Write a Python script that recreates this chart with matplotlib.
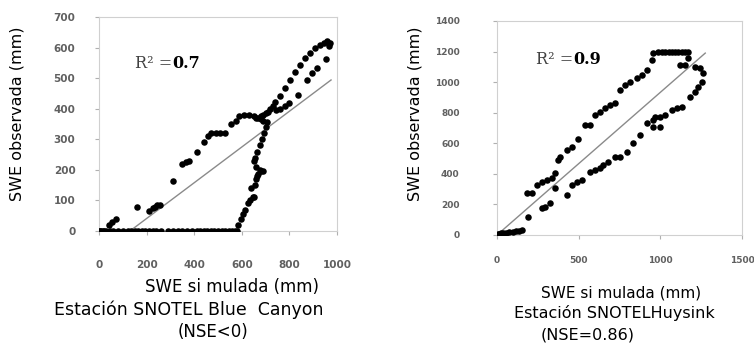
import matplotlib
matplotlib.use("Agg")
import matplotlib.pyplot as plt

# Blue Canyon: SWE simulada (x) vs observada (y), mm
bc_sim = [0, 5, 10, 15, 20, 30, 45, 60, 80, 100, 120, 135, 150, 165, 180, 195, 210, 225,
          240, 260, 290, 310, 330, 350, 370, 390, 410, 425, 440, 455, 470, 485, 500, 515,
          530, 545, 560, 570, 580,
          40, 55, 70, 160, 210, 225, 235, 245, 255, 310, 350, 365, 380, 410, 440, 460, 470,
          490, 510, 530, 555, 575, 590, 610, 630, 650, 660, 670, 680, 690, 700, 710, 720,
          730, 740, 761, 782, 803, 824, 845, 866, 887, 907, 929, 945, 960, 971,
          585, 595, 605, 615, 625, 635, 645, 650, 640, 655, 660, 665, 670, 680, 690, 675,
          660, 650, 655, 665, 675, 685, 695, 700, 705, 690, 680,
          965, 954, 914, 893, 874, 836, 800, 780, 760, 745]
bc_obs = [0, 0, 0, 0, 0, 0, 0, 0, 0, 0, 0, 0, 0, 0, 0, 0, 0, 0,
          0, 0, 0, 0, 0, 0, 0, 0, 0, 0, 0, 0, 0, 0, 0, 0,
          0, 0, 0, 0, 0,
          20, 30, 40, 80, 65, 75, 80, 85, 85, 165, 220, 225, 230, 260, 290, 310, 320,
          320, 320, 320, 350, 360, 375, 380, 380, 375, 370, 370, 375, 380, 385, 390, 400,
          410, 422, 440, 468, 494, 521, 543, 566, 581, 598, 608, 615, 620, 615,
          20, 40, 55, 70, 90, 100, 110, 110, 140, 150, 170, 180, 185, 195, 195, 200,
          210, 230, 240, 260, 280, 300, 320, 340, 355, 360, 365,
          605, 563, 532, 516, 494, 445, 420, 410, 400, 395]
bc_fit = [130, 975]
bc_fit_obs = [0, 494]

# Huysink
hy_sim = [0, 5, 10, 15, 25, 37, 55, 75, 95, 115, 135, 151,
          182, 212, 243, 274, 304, 335, 355, 375, 385, 426, 457, 498, 539, 569, 600, 631,
          661, 692, 722, 753, 784, 814, 855, 886, 917, 947, 957, 988,
          1010, 1030, 1050, 1070, 1090, 1110, 1130, 1150, 1171,
          1171, 1120, 1151, 1212, 1243, 1263, 1253, 1233, 1212, 1182, 1131, 1100, 1070,
          1029, 998, 967, 957, 998, 957,
          192, 274, 294, 324, 355, 426, 457, 487, 518, 569, 600, 631, 649, 681, 722,
          753, 794, 835, 876, 917]
hy_obs = [0, 5, 0, 8, 10, 13, 15, 18, 22, 25, 28, 33,
          272, 272, 327, 349, 360, 371, 403, 490, 512, 556, 578, 630, 719, 719, 785, 807,
          829, 850, 861, 948, 981, 1003, 1025, 1047, 1079, 1145, 1188, 1199,
          1200, 1200, 1200, 1200, 1200, 1200, 1200, 1200, 1199,
          1158, 1112, 1112, 1101, 1090, 1057, 1003, 970, 937, 905, 839, 828, 818,
          785, 774, 774, 708, 708, 752,
          120, 174, 185, 207, 305, 262, 327, 349, 360, 414, 425, 436, 458, 480, 512,
          512, 545, 600, 654, 730]
hy_fit = [0, 1275]
hy_fit_obs = [0, 1190]

W, H = 754, 345
fig = plt.figure(figsize=(W / 100, H / 100), dpi=100)
plt.rcParams['font.family'] = ['DejaVu Sans']

spine_c = '#d0d0d0'
tick_c = '#606060'


def style(ax, xpad, ypad, size):
    for s in ax.spines.values():
        s.set_color(spine_c)
        s.set_linewidth(0.8)
    ax.tick_params(axis='x', direction='out', length=3, color='#b0b0b0', pad=xpad,
                   labelsize=size, labelcolor=tick_c)
    ax.tick_params(axis='y', direction='out', length=3, color='#b0b0b0', pad=ypad,
                   labelsize=size, labelcolor=tick_c)
    for lab in ax.get_xticklabels() + ax.get_yticklabels():
        lab.set_fontweight('bold')


# panel izquierdo
ax1 = fig.add_axes([99 / W, 1 - 231 / H, 238 / W, 214 / H])
ax1.scatter(bc_sim, bc_obs, s=22, color='black', zorder=3, linewidths=0)
ax1.plot(bc_fit, bc_fit_obs, color='#8a8a8a', lw=1.0, zorder=2)
ax1.set_xlim(0, 1000)
ax1.set_ylim(0, 700)
ax1.set_xticks([0, 200, 400, 600, 800, 1000])
ax1.set_yticks(range(0, 701, 100))
style(ax1, 18, 14, 7.5)

# panel derecho
ax2 = fig.add_axes([497 / W, 1 - 235 / H, 245 / W, 214 / H])
ax2.scatter(hy_sim, hy_obs, s=22, color='black', zorder=3, linewidths=0)
ax2.plot(hy_fit, hy_fit_obs, color='#8a8a8a', lw=1.0, zorder=2)
ax2.set_xlim(0, 1500)
ax2.set_ylim(0, 1400)
ax2.set_xticks([0, 500, 1000, 1500])
ax2.set_yticks(range(0, 1401, 200))
style(ax2, 12, 24, 6.5)


def ftext(x, y, s, **kw):
    fig.text(x / W, 1 - y / H, s, **kw)


# etiquetas
ftext(17, 114, 'SWE observada (mm)', rotation=90, ha='center', va='center', fontsize=11.5)
ftext(415, 114, 'SWE observada (mm)', rotation=90, ha='center', va='center', fontsize=11.5)

ftext(232, 287, 'SWE si mulada (mm)', ha='center', va='center', fontsize=12)
ftext(189, 310, 'Estación SNOTEL Blue  Canyon', ha='center', va='center', fontsize=12.5)
ftext(213, 332, '(NSE<0)', ha='center', va='center', fontsize=12)

ftext(621, 293, 'SWE si mulada (mm)', ha='center', va='center', fontsize=11)
ftext(614, 313, 'Estación SNOTELHuysink', ha='center', va='center', fontsize=11.5)
ftext(588, 335, '(NSE=0.86)', ha='center', va='center', fontsize=11.5)

serif = ['DejaVu Serif']
ftext(135, 63, 'R² =', ha='left', va='center', fontsize=11.5, family=serif, color='#404040')
ftext(172, 63, '0.7', ha='left', va='center', fontsize=11.5, family=serif, fontweight='bold')
ftext(536, 60, 'R² =', ha='left', va='center', fontsize=11.5, family=serif, color='#404040')
ftext(573, 60, '0.9', ha='left', va='center', fontsize=11.5, family=serif, fontweight='bold')

fig.savefig('out.png', dpi=100)
